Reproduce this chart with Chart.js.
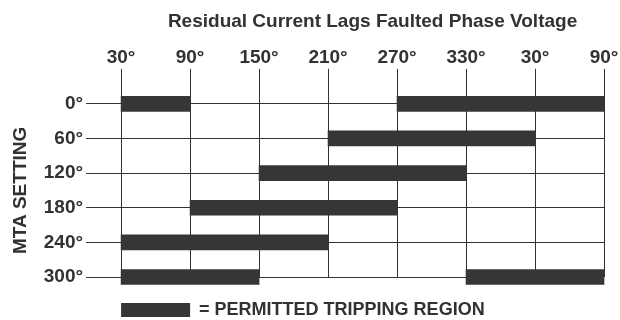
<!DOCTYPE html>
<html>
<head>
<meta charset="utf-8">
<script src="https://cdn.jsdelivr.net/npm/chart.js@4.4.0/dist/chart.umd.min.js"></script>
<style>
    html, body { margin: 0; padding: 0; background: #fff; }
    #wrap { width: 620px; height: 320px; }
</style>
</head>
<body>
<div id="wrap"><canvas id="mta"></canvas></div>
<script>
// MTA settings down the side, angle ticks along the top (30..450 wraps past 360)
const mtaSettings = ['0°', '60°', '120°', '180°', '240°', '300°'];
const angleTicks = ['30°', '90°', '150°', '210°', '270°', '330°', '30°', '90°'];

// tripping regions per MTA setting, [from, to] in degrees
const firstRegion = [[30, 90], [210, 390], [150, 330], [90, 270], [30, 210], [30, 150]];
const secondRegion = [[270, 450], null, null, null, null, [330, 450]];

const headerText = 'Residual Current Lags Faulted Phase Voltage';

const ink = '#333132';
const barColor = '#373536';
const fontFamily = 'Liberation Sans, Arial, sans-serif';
const boldFont = { family: fontFamily, size: 19, weight: 'bold' };

Chart.defaults.font.family = fontFamily;
Chart.defaults.color = ink;

// header sits a little right of the plot centre, so it is drawn by hand
const headerPlugin = {
    id: 'header',
    afterDraw(chart) {
        const c = chart.ctx;
        const area = chart.chartArea;
        c.save();
        c.font = 'bold 19px ' + fontFamily;
        c.fillStyle = ink;
        c.textAlign = 'center';
        c.textBaseline = 'alphabetic';
        c.fillText(headerText, (area.left + area.right) / 2 + 10, 27);
        c.restore();
    }
};

const ctx = document.getElementById('mta').getContext('2d');

new Chart(ctx, {
    type: 'bar',
    data: {
        labels: mtaSettings,
        datasets: [
            {
                label: '= PERMITTED TRIPPING REGION',
                data: firstRegion,
                backgroundColor: barColor,
                borderWidth: 0,
                barThickness: 15,
                grouped: false,
                clip: false
            },
            {
                label: 'wrap',
                data: secondRegion,
                backgroundColor: barColor,
                borderWidth: 0,
                barThickness: 15,
                grouped: false,
                clip: false
            }
        ]
    },
    options: {
        indexAxis: 'y',
        responsive: true,
        maintainAspectRatio: false,
        animation: false,
        layout: {
            padding: { left: 9, right: 16, top: 46, bottom: 0 }
        },
        scales: {
            x: {
                type: 'linear',
                position: 'top',
                min: 30,
                max: 450,
                ticks: {
                    stepSize: 60,
                    padding: 0,
                    color: ink,
                    font: boldFont,
                    callback: function(value, index) {
                        return angleTicks[index];
                    }
                },
                grid: {
                    color: ink,
                    lineWidth: 1,
                    tickLength: 35
                },
                border: { display: false }
            },
            y: {
                type: 'category',
                offset: false,
                ticks: {
                    padding: 3,
                    color: ink,
                    font: boldFont
                },
                grid: {
                    offset: false,
                    color: ink,
                    lineWidth: 1,
                    tickLength: 35
                },
                border: { display: false },
                title: {
                    display: true,
                    text: 'MTA SETTING',
                    color: ink,
                    font: boldFont,
                    padding: { top: 0, bottom: 9 }
                }
            }
        },
        plugins: {
            legend: {
                position: 'bottom',
                align: 'start',
                fullSize: false,
                maxHeight: 43,
                // empty title only opens a gap under the bottom bars
                title: {
                    display: true,
                    text: '',
                    font: { size: 10 },
                    padding: { top: 0, bottom: 12 }
                },
                labels: {
                    boxWidth: 69,
                    boxHeight: 14,
                    padding: 0,
                    color: ink,
                    font: { family: fontFamily, size: 18, weight: 'bold' },
                    filter: function(item) {
                        return item.datasetIndex === 0;
                    }
                }
            },
            tooltip: { enabled: false }
        }
    },
    plugins: [headerPlugin]
});
</script>
</body>
</html>
